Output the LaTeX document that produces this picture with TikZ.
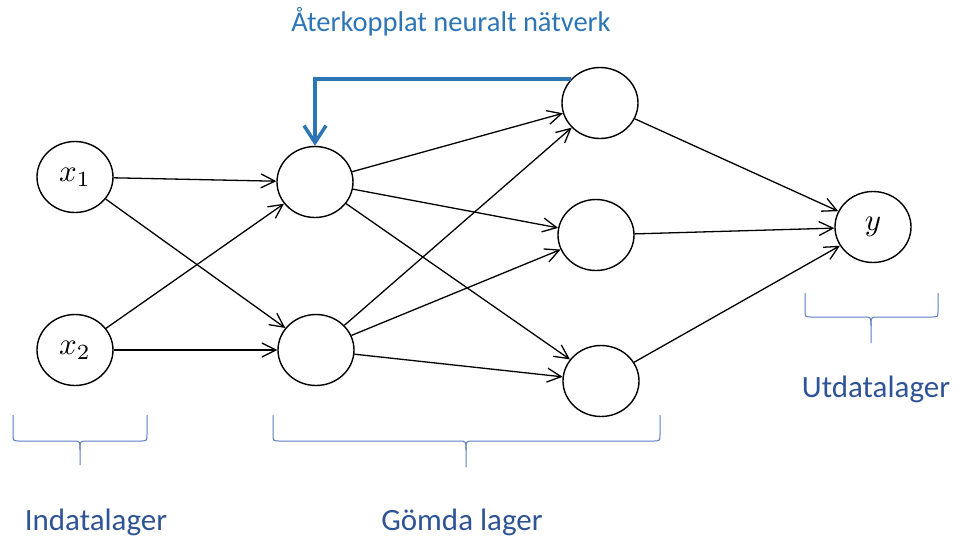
\documentclass[tikz,border=0pt]{standalone}
\usepackage{fontspec}
\setmainfont{Carlito}
\usetikzlibrary{shapes.geometric,arrows.meta,calc}
\definecolor{titleblue}{HTML}{2E75B6}
\definecolor{labelblue}{HTML}{2F5496}
\definecolor{braceblue}{HTML}{5B7DBE}
\newcommand{\bigmath}[1]{\scalebox{3.1}{$#1$}}
\begin{document}
\begin{tikzpicture}[x=1pt,y=-1pt,
  neuron/.style={draw=black,line width=1.4pt,ellipse,minimum width=76pt,minimum height=71pt,inner sep=0pt},
  conn/.style={draw=black,line width=1.3pt,-{Straight Barb[length=14pt,width=14pt,line width=1.3pt]}},
  fb/.style={draw=titleblue,line width=3.5pt,-{Straight Barb[length=17pt,width=22pt,line width=3.5pt]}},
  bracepath/.style={draw=braceblue,line width=1pt},
  layerlabel/.style={text=labelblue,font=\fontsize{31}{36}\selectfont,inner sep=0pt},
  titlelabel/.style={text=titleblue,font=\fontsize{28.5}{32}\selectfont,inner sep=0pt}]
\useasboundingbox (0,0) rectangle (962,542);
% nodes
\node[neuron] (X1) at (75,177) {\bigmath{x_1}};
\node[neuron] (X2) at (75,350) {\bigmath{x_2}};
\node[neuron] (H1) at (315,182) {};
\node[neuron] (H2) at (316,350) {};
\node[neuron] (T1) at (600,103) {};
\node[neuron] (T2) at (596,235) {};
\node[neuron] (T3) at (601,381) {};
\node[neuron] (Y) at (873,227) {\bigmath{y}};
% connections
\draw[conn] (X1) -- (H1);
\draw[conn] (X1) -- (H2);
\draw[conn] (X2) -- (H1);
\draw[conn] (X2) -- (H2);
\foreach \a in {H1,H2}{
  \foreach \b in {T1,T2,T3}{
    \draw[conn] (\a) -- (\b);
  }
}
\foreach \b in {T1,T2,T3}{
  \draw[conn] (\b) -- (Y);
}
% feedback
\draw[fb] ($(T1.center)+(-29,-24)$) -| (H1.north);
% braces
\draw[bracepath] (13,415) -- (13,434) .. controls (13,441) .. (20,441) -- (73,441) .. controls (80,441) .. (80,450) -- (80,465);
\draw[bracepath] (147,415) -- (147,434) .. controls (147,441) .. (140,441) -- (87,441) .. controls (80,441) .. (80,450);
\draw[bracepath] (273,415) -- (273,434) .. controls (273,441) .. (280,441) -- (459,441) .. controls (466,441) .. (466,450) -- (466,467);
\draw[bracepath] (660,415) -- (660,434) .. controls (660,441) .. (653,441) -- (473,441) .. controls (466,441) .. (466,450);
\draw[bracepath] (805,293) -- (805,311) .. controls (805,317) .. (812,317) -- (864,317) .. controls (871,317) .. (871,326) -- (871,343);
\draw[bracepath] (938,293) -- (938,311) .. controls (938,317) .. (931,317) -- (878,317) .. controls (871,317) .. (871,326);
% labels
\node[titlelabel] (title) at (451,22) {Återkopplat neuralt nätverk};
\node[layerlabel] (inl) at (96,522) {Indatalager};
\node[layerlabel] (hid) at (462,522) {Gömda lager};
\node[layerlabel] (outl) at (876,389) {Utdatalager};
\end{tikzpicture}
\end{document}
